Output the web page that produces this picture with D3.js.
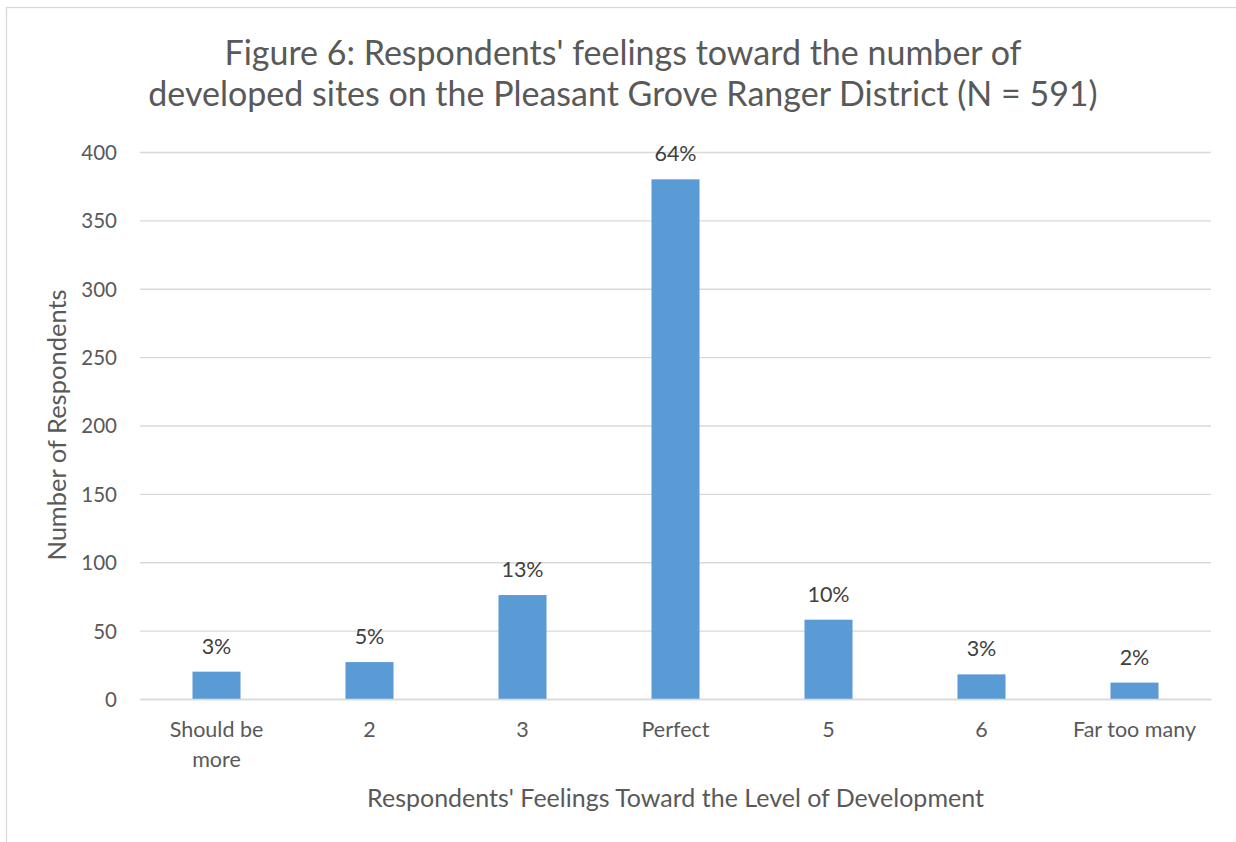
<!DOCTYPE html>
<html><head><meta charset="utf-8">
<script src="https://cdn.jsdelivr.net/npm/d3@7/dist/d3.min.js"></script>
<style>body{margin:0;background:#fff}svg{display:block}text{font-family:Lato,"Open Sans",sans-serif}</style>
</head><body>
<script>
const categories = ["Should be more","2","3","Perfect","5","6","Far too many"];
const counts = [20,27,76,380,58,18,12];
const percentLabels = ["3%","5%","13%","64%","10%","3%","2%"];
const yTicks = [0,50,100,150,200,250,300,350,400];
const titleLines = ["Figure 6: Respondents' feelings toward the number of","developed sites on the Pleasant Grove Ranger District (N = 591)"];
const xTitle = "Respondents' Feelings Toward the Level of Development";
const yTitle = "Number of Respondents";

const W=1236,H=842;
const m={left:140,right:1211,top:152,bottom:699};
const svg=d3.select("body").append("svg").attr("width",W).attr("height",H);
svg.append("rect").attr("x",6.5).attr("y",7.5).attr("width",W+10).attr("height",H+10)
  .attr("fill","#fff").attr("stroke","#d9d9d9").attr("stroke-width",1.3);

const x=d3.scaleBand().domain(categories).range([m.left,m.right]).paddingInner(0.686).paddingOuter(0.343);
const y=d3.scaleLinear().domain([0,400]).range([m.bottom,m.top]);

const ya=svg.append("g").attr("transform",`translate(${m.left},0)`)
  .call(d3.axisLeft(y).tickValues(yTicks).tickSize(-(m.right-m.left)).tickPadding(23));
ya.select(".domain").remove();
ya.selectAll(".tick line").attr("stroke","#d9d9d9").attr("stroke-width",1.3);
ya.selectAll(".tick text").attr("fill","#595959").style("font-size","20.5px").attr("dy","0.36em");

svg.selectAll("rect.bar").data(counts).join("rect").attr("class","bar")
  .attr("x",(d,i)=>x(categories[i])).attr("width",x.bandwidth())
  .attr("y",d=>y(d)).attr("height",d=>y(0)-y(d)).attr("fill","#5b9bd5");

svg.selectAll("text.lab").data(counts).join("text").attr("class","lab")
  .attr("x",(d,i)=>x(categories[i])+x.bandwidth()/2).attr("y",d=>y(d)-18)
  .attr("text-anchor","middle").attr("fill","#404040").style("font-size","21.5px")
  .text((d,i)=>percentLabels[i]);

const xa=svg.append("g").attr("transform",`translate(0,${m.bottom})`)
  .call(d3.axisBottom(x).tickSize(0).tickPadding(0));
xa.select(".domain").attr("stroke","#d9d9d9").attr("stroke-width",1.3);
xa.selectAll(".tick text").remove();
xa.selectAll(".tick").each(function(d){
  const g=d3.select(this);
  const lines = d==="Should be more" ? ["Should be","more"] : [d];
  lines.forEach((l,i)=>g.append("text").attr("y",38+i*30).attr("text-anchor","middle")
    .attr("fill","#595959").style("font-size","21.5px").text(l));
});

svg.append("text").attr("x",(m.left+m.right)/2).attr("y",807).attr("text-anchor","middle")
  .attr("fill","#595959").style("font-size","25px").text(xTitle);
svg.append("text").attr("transform",`translate(66,425) rotate(-90)`).attr("text-anchor","middle")
  .attr("fill","#595959").style("font-size","25.5px").text(yTitle);

titleLines.forEach((t,i)=>svg.append("text").attr("x",623).attr("y",65+i*41).attr("text-anchor","middle")
  .attr("fill","#595959").style("font-size","34px").text(t));
</script>
</body></html>
